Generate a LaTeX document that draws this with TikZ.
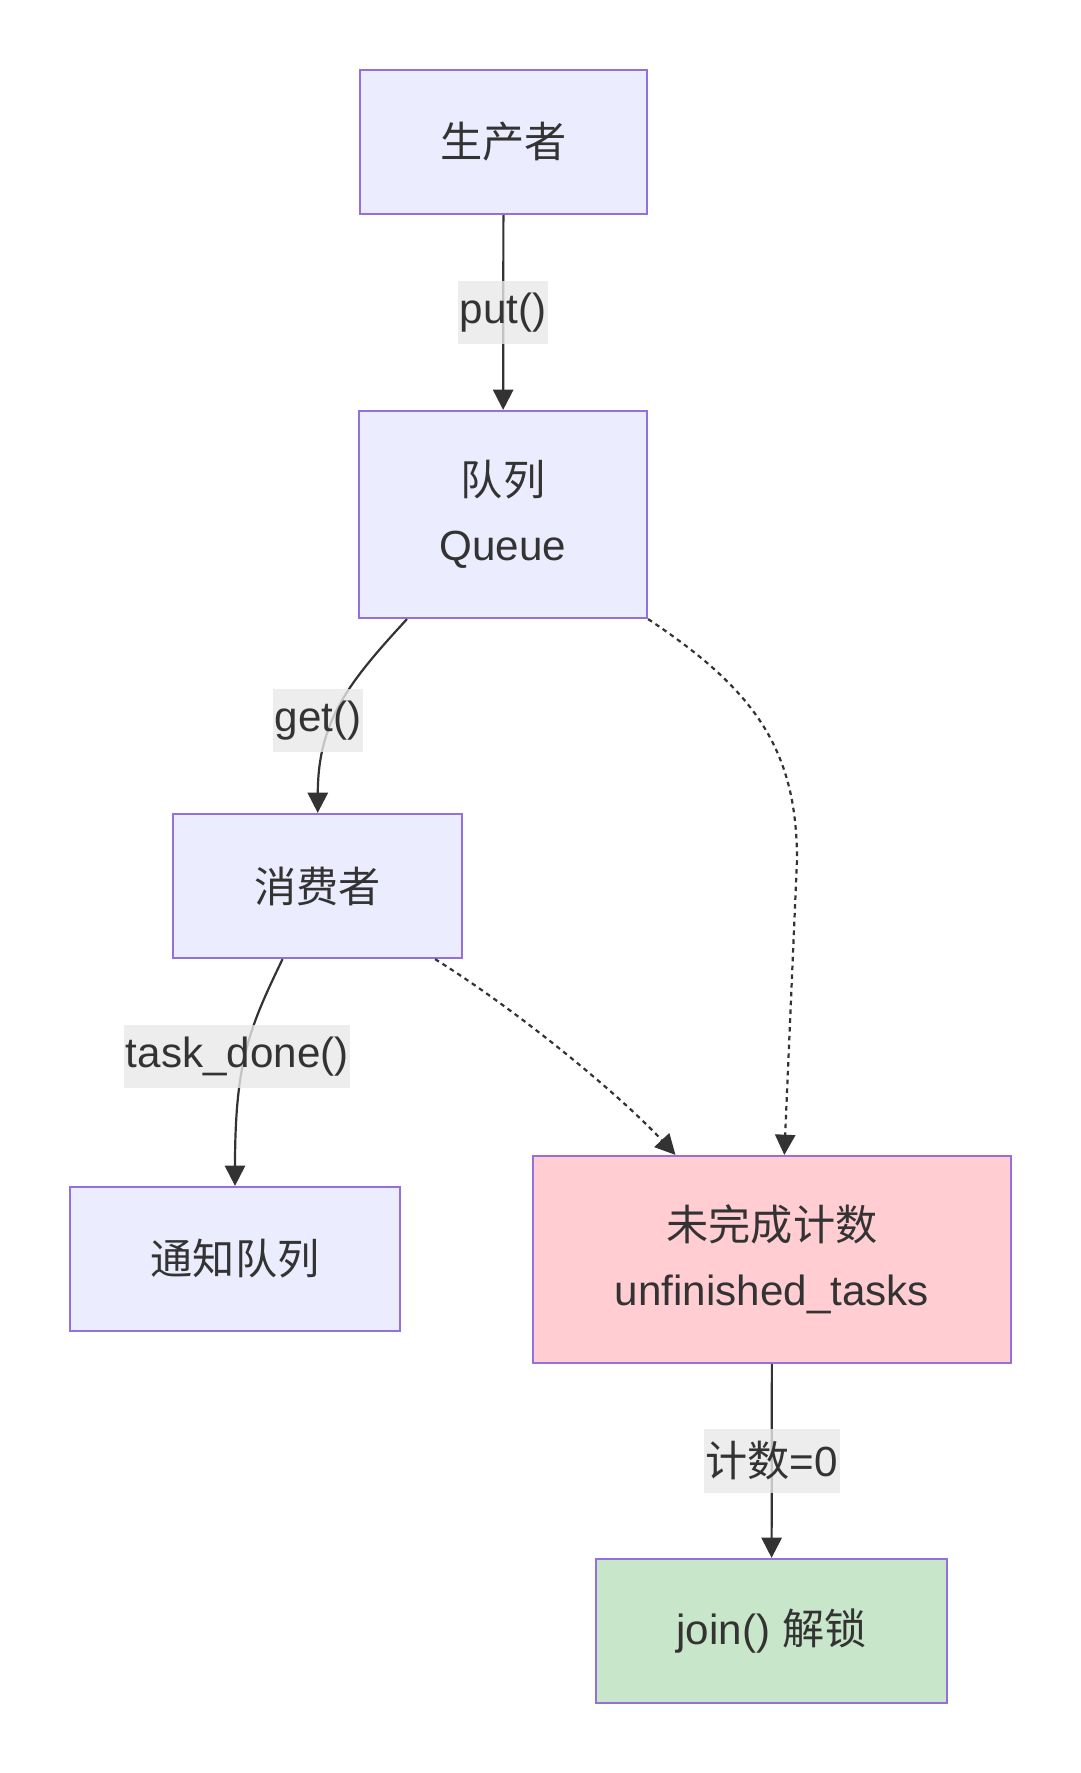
\documentclass[tikz,border=0pt]{standalone}
\usepackage{fontspec}
\setmainfont{Liberation Sans}
\newfontfamily\cjk{Noto Sans CJK SC}
\usetikzlibrary{arrows.meta}
\definecolor{boxfill}{HTML}{ECECFF}
\definecolor{boxline}{HTML}{9370DB}
\definecolor{countfill}{HTML}{FFCDD2}
\definecolor{joinfill}{HTML}{C8E6C9}
\definecolor{labelbg}{HTML}{E8E8E8}
\definecolor{ink}{HTML}{333333}
\newcommand{\boxh}{2.88cm}

\begin{document}
\begin{tikzpicture}[x=0.02cm,y=-0.02cm]
    \useasboundingbox (0,0) rectangle (1080,1773);
    \begin{scope}[every node/.style={rectangle,draw=boxline,line width=1.3pt,fill=boxfill,text=ink,align=center,
        font=\fontsize{24}{37}\selectfont,minimum height=\boxh}]
        \node[minimum width=5.74cm] (prod) at (503.5,142) {\cjk 生产者};
        \node[minimum width=5.76cm,minimum height=4.14cm] (queue) at (503,514.5) {{\cjk 队列}\\Queue};
        \node[minimum width=5.78cm] (cons) at (317.5,886) {\cjk 消费者};
        \node[minimum width=6.6cm] (notify) at (235,1259) {\cjk 通知队列};
        \node[fill=countfill,minimum width=9.56cm,minimum height=4.14cm] (count) at (772,1259.5) {{\cjk 未完成计数}\\unfinished\_tasks};
        \node[fill=joinfill,minimum width=7.02cm] (join) at (771.5,1631) {join() {\cjk 解锁}};
    \end{scope}

    \begin{scope}[>={Triangle[length=11.5pt,width=11.5pt]},
        flow/.style={->,draw=ink,line width=1.25pt},
        hint/.style={flow,dash pattern=on 2.6pt off 2.4pt},
        lbl/.style={fill=labelbg,fill opacity=0.8,text opacity=1,text=ink,font=\fontsize{24}{30}\selectfont,
            inner xsep=1pt,inner ysep=0pt,minimum height=36pt}]
        \draw[flow] (prod) -- node[lbl] {put()} (queue);
        \draw[flow] (queue) .. controls (350,681) and (318,720) .. node[lbl,pos=0.6,xshift=-8.5pt,yshift=1pt] {get()} (cons);
        \draw[flow] (cons) .. controls (250,1027) and (235,1060) .. node[lbl,pos=0.53,xshift=-4.5pt] {task\_done()} (notify);
        \draw[hint] (queue.south east) .. controls (755,690) and (797,750) .. (797,860) -- ([xshift=7pt]count.north);
        \draw[hint] (cons) .. controls (517,1010) and (620,1095) .. (count);
        \draw[flow] (count) -- node[lbl] {{\cjk 计数}=0} (join);
    \end{scope}
\end{tikzpicture}
\end{document}
